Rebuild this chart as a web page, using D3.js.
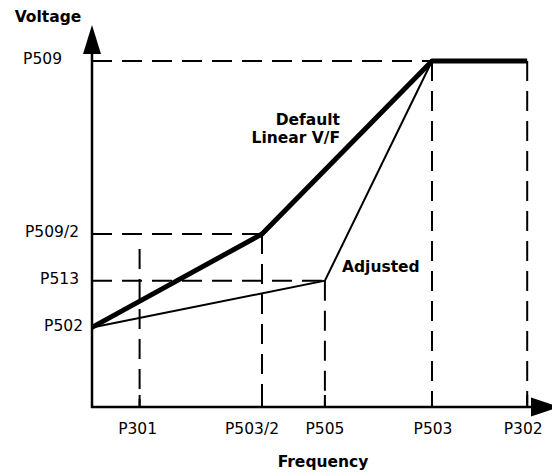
<!DOCTYPE html>
<meta charset="utf-8">
<style>
body { margin: 0; background: #fff; font-family: "DejaVu Sans", Verdana, sans-serif; }
</style>
<body>
<script src="https://d3js.org/d3.v7.min.js"></script>
<script>

// frequency positions (P503 = 100) and voltage levels (P509 = 100)
var freqNames = ["P301", "P503/2", "P505", "P503", "P302"];
var freqValues = [14, 50, 68.5, 100, 128];
var voltNames = ["P509", "P509/2", "P513", "P502"];
var voltValues = [100, 50, 36.5, 23];

// curves, as [frequency, voltage]
var defaultCurve = [[0, 23], [50, 50], [100, 100], [128, 100]];
var adjustedCurve = [[0, 23], [68.5, 36.5], [100, 100]];

// top of the P301 guide line (no point on the curve there)
var p301Top = 45.7;

var width = 552, height = 473;
var fs = "15.5px";

var svg = d3.select("body").append("svg")
  .attr("width", width)
  .attr("height", height);

var x = d3.scaleLinear().domain([0, 100]).range([92, 432]);
var y = d3.scaleLinear().domain([0, 100]).range([407, 61]);

// guide lines
var guides = svg.append("g")
  .attr("stroke", "#000")
  .attr("stroke-width", 2)
  .attr("stroke-dasharray", "20,10")
  .attr("fill", "none");

// horizontal: each voltage level to the point where it meets a curve
var hEnds = [100, 50, 68.5, 0];
voltValues.forEach(function(v, i) {
  if (hEnds[i] <= 0) return;
  guides.append("line")
    .attr("x1", x(0)).attr("x2", x(hEnds[i]))
    .attr("y1", y(v)).attr("y2", y(v));
});

// vertical: from the curve down to the axis
var vTops = [p301Top, 50, 36.5, 100, 100];
freqValues.forEach(function(f, i) {
  guides.append("line")
    .attr("x1", x(f)).attr("x2", x(f))
    .attr("y1", y(vTops[i])).attr("y2", y(0));
});

// small ticks on the x axis
svg.append("g").selectAll("line")
  .data(freqValues)
  .enter().append("line")
  .attr("x1", function(d) { return x(d); })
  .attr("x2", function(d) { return x(d); })
  .attr("y1", y(0) - 12).attr("y2", y(0))
  .attr("stroke", "#000").attr("stroke-width", 2);

// curves
var line = d3.line()
  .x(function(d) { return x(d[0]); })
  .y(function(d) { return y(d[1]); });

svg.append("path")
  .datum(adjustedCurve)
  .attr("d", line)
  .attr("fill", "none")
  .attr("stroke", "#000")
  .attr("stroke-width", 2);

svg.append("path")
  .datum(defaultCurve)
  .attr("d", line)
  .attr("fill", "none")
  .attr("stroke", "#000")
  .attr("stroke-width", 5)
  .attr("stroke-linejoin", "round");

// axes with arrow heads
svg.append("line")
  .attr("x1", x(0)).attr("x2", x(0))
  .attr("y1", y(0) + 1).attr("y2", 50)
  .attr("stroke", "#000").attr("stroke-width", 2.5);
svg.append("line")
  .attr("x1", x(0) - 1).attr("x2", 535)
  .attr("y1", y(0)).attr("y2", y(0))
  .attr("stroke", "#000").attr("stroke-width", 2.5);

svg.append("path")
  .attr("d", "M" + x(0) + ",25L" + (x(0) + 9) + ",54L" + (x(0) - 9) + ",54Z")
  .attr("fill", "#000");
svg.append("path")
  .attr("d", "M560," + y(0) + "L531," + (y(0) - 9.5) + "L531," + (y(0) + 9.5) + "Z")
  .attr("fill", "#000");

// tick labels
svg.append("g").selectAll("text")
  .data(voltNames)
  .enter().append("text")
  .attr("x", function(d, i) { return i === 0 ? 62 : (i === 3 ? 83 : 79); })
  .attr("y", function(d, i) { return y(voltValues[i]) - 2; })
  .attr("dy", "0.35em")
  .attr("text-anchor", "end")
  .style("font-size", fs)
  .text(function(d) { return d; });

var xLabelShift = [-2, -10, 0, 1, -4];
svg.append("g").selectAll("text")
  .data(freqNames)
  .enter().append("text")
  .attr("x", function(d, i) { return x(freqValues[i]) + xLabelShift[i]; })
  .attr("y", 434)
  .attr("text-anchor", "middle")
  .style("font-size", fs)
  .text(function(d) { return d; });

// axis titles
svg.append("text")
  .attr("x", 48).attr("y", 22)
  .attr("text-anchor", "middle")
  .style("font-size", fs).style("font-weight", "bold")
  .text("Voltage");
svg.append("text")
  .attr("x", 323).attr("y", 467)
  .attr("text-anchor", "middle")
  .style("font-size", fs).style("font-weight", "bold")
  .text("Frequency");

// curve labels
svg.append("text")
  .attr("x", 340).attr("y", 125)
  .attr("text-anchor", "end")
  .style("font-size", fs).style("font-weight", "bold")
  .text("Default");
svg.append("text")
  .attr("x", 340).attr("y", 143)
  .attr("text-anchor", "end")
  .style("font-size", fs).style("font-weight", "bold")
  .text("Linear V/F");
svg.append("text")
  .attr("x", 342).attr("y", 272)
  .attr("text-anchor", "start")
  .style("font-size", fs).style("font-weight", "bold")
  .text("Adjusted");

</script>
</body>
